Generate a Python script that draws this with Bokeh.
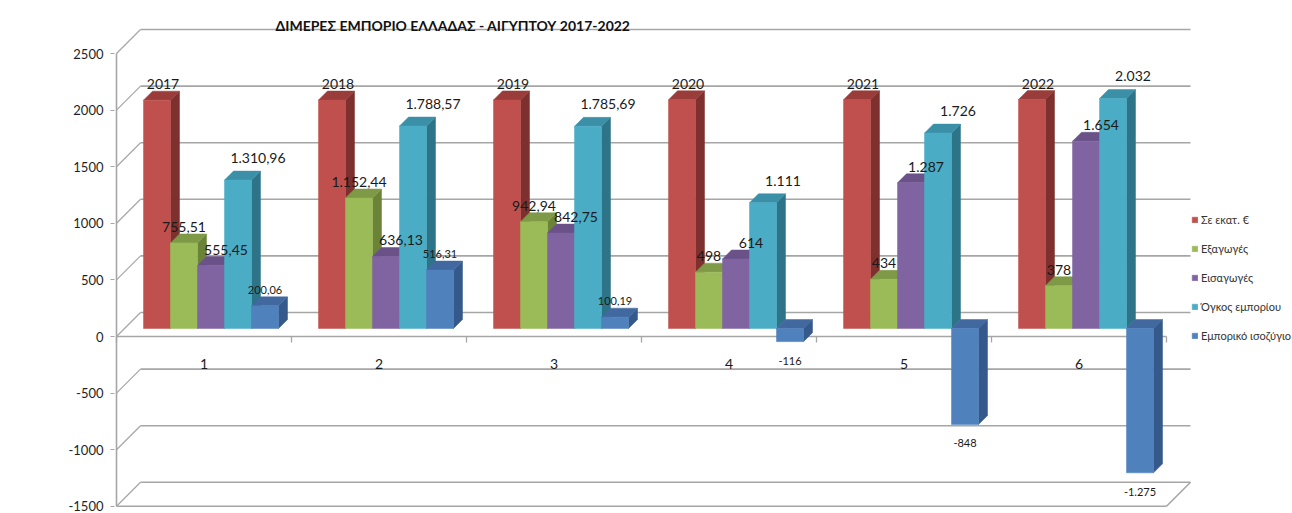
from bokeh.plotting import figure
from bokeh.models import Range1d, FixedTicker, Legend, LegendItem, Label, ColumnDataSource
from bokeh.core.properties import value
from bokeh.embed import file_html
from bokeh.resources import INLINE

# ---------------- data ----------------
categories = ["1", "2", "3", "4", "5", "6"]
years = [2017, 2018, 2019, 2020, 2021, 2022]
exports = [755.51, 1152.44, 942.94, 498, 434, 378]
imports = [555.45, 636.13, 842.75, 614, 1287, 1654]
volume = [1310.96, 1788.57, 1785.69, 1111, 1726, 2032]
balance = [200.06, 516.31, 100.19, -116, -848, -1275]
series_names = ["Σε εκατ. €", "Εξαγωγές", "Εισαγωγές", "Όγκος εμπορίου", "Εμπορικό ισοζύγιο"]
y_ticks = [-1500, -1000, -500, 0, 500, 1000, 1500, 2000, 2500]
title_text = "ΔΙΜΕΡΕΣ ΕΜΠΟΡΙΟ ΕΛΛΑΔΑΣ - ΑΙΓΥΠΤΟΥ 2017-2022"
unit_text = "Σε εκατ. €"

series_values = [years, exports, imports, volume, balance]

# ---------------- style ----------------
FONT = "Lato"
front_colors = ["#C0504D", "#9BBB59", "#8064A2", "#4BACC6", "#4F81BD"]
side_colors = ["#7D302E", "#6A8336", "#574374", "#2E7489", "#35598A"]
top_colors = ["#9A3C3A", "#7E9A46", "#6A5289", "#3B90A8", "#4169A0"]
label_dx = [6, 0, 15, 20, 0]       # px
label_up = [16, 16, 16, 22, 16]    # px
label_size = ["14px", "14px", "14px", "14px", "11px"]
GRID = "#A6A6A6"


def fmt(v, is_year=False):
    if is_year:
        return str(int(v))
    neg = v < 0
    a = abs(v)
    if abs(a - round(a)) < 1e-9:
        ip, dec = int(round(a)), ""
    else:
        ip, dec = int(a), "," + f"{a:.2f}".split(".")[1]
    return ("-" if neg else "") + f"{ip:,}".replace(",", ".") + dec


# ---------------- geometry (pixel based pseudo-3D) ----------------
PX_PER_CAT = 175.0
PX_PER_UNIT = 0.1132
U = 1.0 / PX_PER_UNIT
W = 27 / PX_PER_CAT
GROUP_PAD = 27 / PX_PER_CAT
OY = 8 * U
DX, DY = 9 / PX_PER_CAT, 9 * U
BX, BY = 24 / PX_PER_CAT, 24 * U

FIG_W, FIG_H = 1292, 513
LEFT = 114
X_MIN = 0.5 - 2 / PX_PER_CAT
X_MAX = X_MIN + (FIG_W - LEFT) / PX_PER_CAT
Y_MIN = -(FIG_H - 336) * U
Y_MAX = Y_MIN + FIG_H * U

n = len(categories)
p = figure(width=FIG_W, height=FIG_H, output_backend="svg", toolbar_location=None,
           x_range=Range1d(X_MIN, X_MAX), y_range=Range1d(Y_MIN, Y_MAX),
           x_axis_location=None, min_border_left=LEFT, min_border_right=0,
           min_border_top=0, min_border_bottom=0)
p.outline_line_color = None
p.xgrid.visible = False
p.ygrid.visible = False

ax = p.yaxis[0]
ax.ticker = FixedTicker(ticks=y_ticks)
ax.major_label_overrides = {t: str(t) for t in y_ticks}
ax.axis_line_color = None
ax.major_tick_line_color = GRID
ax.major_tick_out = 4
ax.major_tick_in = 0
ax.minor_tick_line_color = None
ax.major_label_standoff = 7
ax.major_label_text_font = FONT
ax.major_label_text_font_size = "13px"
ax.major_label_text_color = "#1f1f1f"

left_edge = 0.5
right_edge = n + 0.5

# back wall gridlines + side diagonals
p.segment(x0=[left_edge + BX] * len(y_ticks), y0=[t + BY for t in y_ticks],
          x1=[right_edge + BX] * len(y_ticks), y1=[t + BY for t in y_ticks],
          line_color=GRID, line_width=1.6)
p.segment(x0=[left_edge] * len(y_ticks), y0=y_ticks,
          x1=[left_edge + BX] * len(y_ticks), y1=[t + BY for t in y_ticks],
          line_color=GRID, line_width=1.3)
# floor / axes lines
ymin_t, ymax_t = min(y_ticks), max(y_ticks)
p.segment(x0=[left_edge, left_edge, right_edge, left_edge],
          y0=[0, ymin_t, ymin_t, ymin_t],
          x1=[right_edge, right_edge, right_edge + BX, left_edge],
          y1=[0, ymin_t, ymin_t + BY, ymax_t],
          line_color=GRID, line_width=1.6)
bounds = [i + 0.5 for i in range(n + 1)]
p.segment(x0=bounds, y0=[0] * len(bounds), x1=bounds, y1=[-6 * U] * len(bounds),
          line_color=GRID, line_width=1.3)

# bars
legend_items = []
label_sets = []
for j, (name, vals) in enumerate(zip(series_names, series_values)):
    xl = [i + 1 - 0.5 + GROUP_PAD + W * j for i in range(n)]
    xr = [a + W for a in xl]
    yt = [max(OY, v + OY) for v in vals]
    yb = [min(OY, v + OY) for v in vals]
    side_xs = [[r, r + DX, r + DX, r] for r in xr]
    side_ys = [[b, b + DY, t + DY, t] for b, t in zip(yb, yt)]
    p.patches(side_xs, side_ys, fill_color=side_colors[j], line_color=side_colors[j], line_width=0.5)
    top_xs = [[l, r, r + DX, l + DX] for l, r in zip(xl, xr)]
    top_ys = [[t, t, t + DY, t + DY] for t in yt]
    p.patches(top_xs, top_ys, fill_color=top_colors[j], line_color=top_colors[j], line_width=0.5)
    src = ColumnDataSource(dict(x=[a + W / 2 for a in xl], top=[v + OY for v in vals],
                                bottom=[OY] * n))
    r = p.vbar(x="x", width=W, top="top", bottom="bottom", source=src,
               fill_color=front_colors[j], line_color=front_colors[j], line_width=0.5)
    legend_items.append(LegendItem(label=name, renderers=[r]))

    lx, ly, lyo, txt = [], [], [], []
    for i, v in enumerate(vals):
        lx.append(xl[i] + W / 2)
        ly.append(v + OY)
        txt.append(fmt(v, is_year=(j == 0)))
        lyo.append(-label_up[j] if v >= 0 else 19)
    label_sets.append((j, lx, ly, lyo, txt))

# data labels (on top of all bars)
for j, lx, ly, lyo, txt in label_sets:
    p.text(x=lx, y=ly, text=txt, x_offset=label_dx[j], y_offset=lyo,
           text_align="center", text_baseline="middle",
           text_font=value(FONT), text_font_size=label_size[j], text_color="#1a1a1a")

# category labels
p.text(x=[i + 1 for i in range(n)], y=[-27 * U] * n, text=categories,
       text_align="center", text_baseline="middle",
       text_font=value(FONT), text_font_size="14px", text_color="#1a1a1a")

legend = Legend(items=legend_items, location=(1077, 171), orientation="vertical",
                glyph_width=7, glyph_height=7, label_standoff=3, spacing=16,
                padding=0, margin=0, border_line_alpha=0, background_fill_alpha=0,
                label_text_font=FONT, label_text_font_size="11px",
                label_text_color="#333333")
p.add_layout(legend)

p.add_layout(Label(x=161, y=FIG_H - 25, x_units="screen", y_units="screen", text=title_text,
                   text_font=FONT, text_font_size="14px", text_font_style="bold",
                   text_baseline="middle", text_color="#111111"))
p.add_layout(Label(x=29 - LEFT, y=FIG_H - 25, x_units="screen", y_units="screen", text=unit_text,
                   text_font=FONT, text_font_size="12.5px",
                   text_baseline="middle", text_color="#1f1f1f"))

open("out.html", "w").write(file_html(p, INLINE))
